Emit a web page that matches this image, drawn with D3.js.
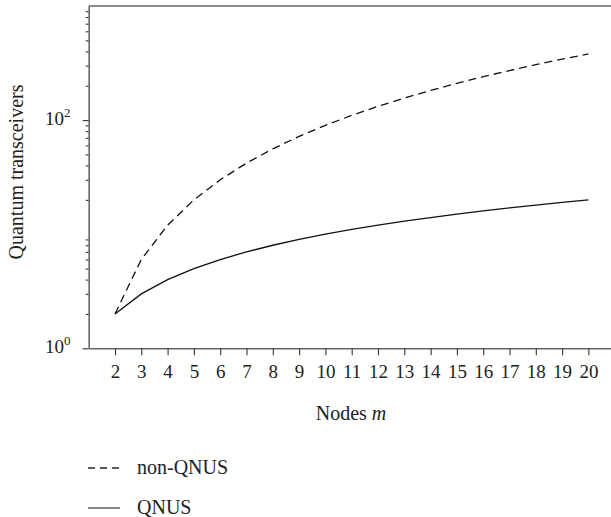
<!DOCTYPE html>
<html>
<head>
<meta charset="utf-8">
<script src="https://cdn.jsdelivr.net/npm/d3@7"></script>
<style>
  body { margin: 0; background: #fff; }
  svg { display: block; font-family: "Liberation Serif", "DejaVu Serif", serif; }
</style>
</head>
<body>
<div class="chart"></div>
<script>
// data
const nodes = [2,3,4,5,6,7,8,9,10,11,12,13,14,15,16,17,18,19,20]
const nonQnus = [2,6,12,20,30,42,56,72,90,110,132,156,182,210,240,272,306,342,380]
const qnus = [2,3,4,5,6,7,8,9,10,11,12,13,14,15,16,17,18,19,20]
const majorTicks = [1, 100]
const minorTicks = [2,3,4,5,6,7,8,9,20,30,40,50,60,70,80,90,200,300,400,500,600,700,800,900]
const majorLabels = [{v: 1, exp: '0'}, {v: 100, exp: '2'}]

const width = 611, height = 517

const svg = d3.select(".chart").append("svg")
  .attr("width", width)
  .attr("height", height)

const x = d3.scaleLinear()
  .domain([1, 21])
  .range([88.7, 614.7])

const y = d3.scaleLog()
  .domain([1, 1000])
  .range([348.3, 6])

const axisColor = '#666'

// x axis
const xAxis = d3.axisBottom(x)
  .tickValues(nodes)
  .tickSize(7)
  .tickSizeOuter(0)
  .tickPadding(9)
const gx = svg.append("g")
  .attr("class", "axis x-axis")
  .attr("transform", `translate(0, ${y(1)})`)
  .call(xAxis)
gx.select(".domain").attr("stroke", axisColor).attr("stroke-width", 1.6)
gx.selectAll(".tick line").attr("stroke", "#333").attr("stroke-width", 1.1)
gx.selectAll(".tick text")
  .attr("font-family", '"Liberation Serif", serif')
  .attr("font-size", 19)
  .attr("fill", "#222")

// y axis: minor ticks
const gyMinor = svg.append("g")
  .attr("transform", `translate(${x(1)}, 0)`)
  .call(d3.axisLeft(y).tickValues(minorTicks).tickSize(3).tickSizeOuter(0).tickFormat(""))
gyMinor.select(".domain").remove()
gyMinor.selectAll(".tick line").attr("stroke", "#333").attr("stroke-width", 1.1)

// y axis: major ticks
const gy = svg.append("g")
  .attr("class", "axis y-axis")
  .attr("transform", `translate(${x(1)}, 0)`)
  .call(d3.axisLeft(y).tickValues(majorTicks).tickSize(6).tickSizeOuter(0).tickFormat(""))
gy.select(".domain").attr("stroke", axisColor).attr("stroke-width", 1.6)
gy.selectAll(".tick line").attr("stroke", "#333").attr("stroke-width", 1.1)

// top frame line
svg.append("line")
  .attr("x1", x(1)).attr("x2", width)
  .attr("y1", y(1000)).attr("y2", y(1000))
  .attr("stroke", axisColor)
  .attr("stroke-width", 1.6)

// y tick labels 10^n
const lab = svg.selectAll(".ylab")
  .data(majorLabels)
  .enter()
  .append("text")
  .attr("class", "ylab")
  .attr("x", 45)
  .attr("y", d => y(d.v) + 5)
  .attr("font-size", 19)
  .attr("fill", "#222")
lab.append("tspan").text("10")
lab.append("tspan")
  .attr("font-size", 13)
  .attr("dy", -8)
  .text(d => d.exp)

// lines
const line = d3.line()
  .x((d, i) => x(nodes[i]))
  .y(d => y(d))

svg.append("path")
  .datum(nonQnus)
  .attr("fill", "none")
  .attr("stroke", "#111")
  .attr("stroke-width", 1.3)
  .attr("stroke-dasharray", "8,5")
  .attr("d", line)

svg.append("path")
  .datum(qnus)
  .attr("fill", "none")
  .attr("stroke", "#111")
  .attr("stroke-width", 1.3)
  .attr("d", line)

// axis titles
svg.append("text")
  .attr("x", 351)
  .attr("y", 420)
  .attr("text-anchor", "middle")
  .attr("font-size", 20)
  .attr("fill", "#222")
  .call(t => {
    t.append("tspan").text("Nodes ")
    t.append("tspan").attr("font-style", "italic").text("m")
  })

svg.append("text")
  .attr("transform", "translate(23, 172) rotate(-90)")
  .attr("text-anchor", "middle")
  .attr("font-size", 20)
  .attr("fill", "#222")
  .text("Quantum transceivers")

// legend
const legend = [
  {name: "non-QNUS", dash: "7,5", y: 468},
  {name: "QNUS", dash: null, y: 508}
]
const lg = svg.selectAll(".legend")
  .data(legend)
  .enter()
  .append("g")
  .attr("class", "legend")
lg.append("line")
  .attr("x1", 88).attr("x2", 120)
  .attr("y1", d => d.y).attr("y2", d => d.y)
  .attr("stroke", d => d.dash ? "#222" : "#555")
  .attr("stroke-width", 1.4)
  .attr("stroke-dasharray", d => d.dash)
lg.append("text")
  .attr("x", 137)
  .attr("y", d => d.y + 6)
  .attr("font-size", 20)
  .attr("fill", "#222")
  .text(d => d.name)
</script>
</body>
</html>
